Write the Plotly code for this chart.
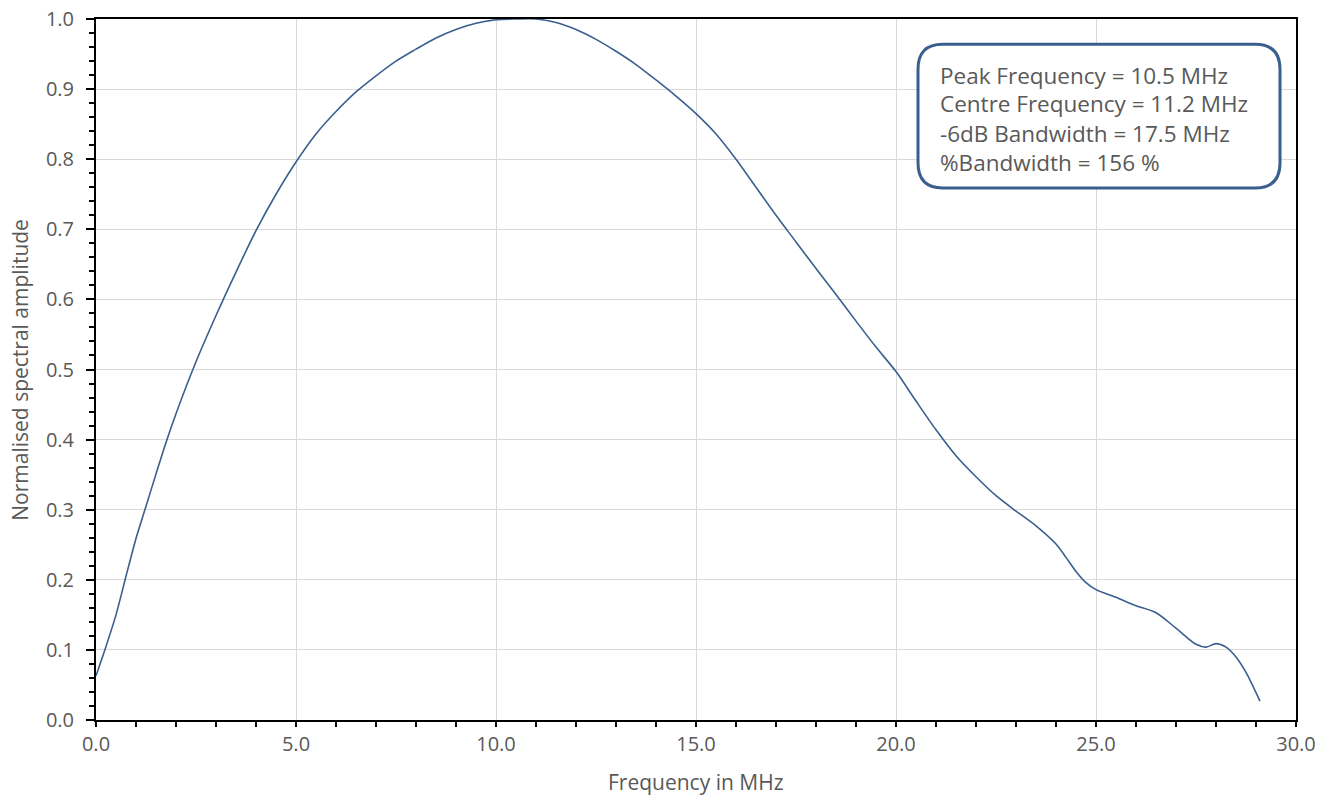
import plotly.graph_objects as go

freq_mhz = [0.0, 0.25, 0.5, 0.75, 1.0, 1.25, 1.5, 1.75, 2.0, 2.5, 3.0, 3.5, 4.0, 4.5,
            5.0, 5.5, 6.0, 6.5, 7.0, 7.5, 8.0, 8.5, 9.0, 9.5, 10.0, 10.5, 11.0, 11.5,
            12.0, 12.5, 13.0, 13.5, 14.0, 14.5, 15.0, 15.5, 16.0, 16.5, 17.0, 17.5,
            18.0, 18.5, 19.0, 19.5, 20.0, 20.5, 21.0, 21.5, 22.0, 22.5, 23.0, 23.5,
            24.0, 24.25, 24.5, 24.75, 25.0, 25.5, 26.0, 26.5, 27.0, 27.5, 27.75,
            28.0, 28.25, 28.5, 28.75, 29.1]
amplitude = [0.063, 0.105, 0.150, 0.205, 0.259, 0.305, 0.351, 0.396, 0.437, 0.511,
             0.577, 0.639, 0.698, 0.750, 0.796, 0.836, 0.868, 0.896, 0.919, 0.940,
             0.957, 0.973, 0.985, 0.994, 0.999, 1.000, 1.000, 0.995, 0.985, 0.971,
             0.954, 0.935, 0.913, 0.890, 0.865, 0.836, 0.800, 0.760, 0.720, 0.682,
             0.644, 0.607, 0.569, 0.532, 0.497, 0.455, 0.414, 0.377, 0.347, 0.320,
             0.298, 0.277, 0.251, 0.232, 0.212, 0.196, 0.186, 0.175, 0.163, 0.153,
             0.131, 0.108, 0.104, 0.109, 0.104, 0.090, 0.068, 0.027]

info_lines = ["Peak Frequency = 10.5 MHz",
              "Centre Frequency = 11.2 MHz",
              "-6dB Bandwidth = 17.5 MHz",
              "%Bandwidth = 156 %"]

FONT = "Open Sans"
GREY = "#595959"
LINE = "#3a5f8f"

fig = go.Figure()
fig.add_trace(go.Scatter(x=freq_mhz, y=amplitude, mode="lines",
                         line=dict(color=LINE, width=1.6, shape="spline", smoothing=0.8),
                         showlegend=False, hoverinfo="skip"))

axis_common = dict(showline=True, linecolor="black", linewidth=2, mirror=True,
                   showgrid=True, gridcolor="#d9d9d9", gridwidth=1, zeroline=False,
                   ticks="outside", tickcolor="black", tickwidth=1.5, automargin=False,
                   tickfont=dict(family=FONT, size=20, color=GREY))

fig.update_xaxes(range=[0, 30], dtick=5, tick0=0, tickformat=".1f", ticklen=5,
                 minor=dict(dtick=1, ticks="outside", ticklen=5, tickcolor="black", tickwidth=1.5, showgrid=False),
                 **axis_common)
fig.update_yaxes(range=[0, 1.0], dtick=0.1, tick0=0, tickformat=".1f", ticklen=8,
                 ticklabelstandoff=8,
                 minor=dict(dtick=0.02, ticks="outside", ticklen=5, tickcolor="black", tickwidth=1.5, showgrid=False),
                 **axis_common)

fig.add_annotation(text="Frequency in MHz", xref="paper", yref="paper", x=0.5, y=-0.089,
                   xanchor="center", yanchor="middle", showarrow=False,
                   font=dict(family=FONT, size=21, color=GREY))
fig.add_annotation(text="Normalised spectral amplitude", xref="paper", yref="paper", x=-0.064, y=0.5,
                   xanchor="center", yanchor="middle", showarrow=False, textangle=-90,
                   font=dict(family=FONT, size=21, color=GREY))

# rounded info box
x0, x1 = 20.55, 29.6
y0, y1 = 0.759, 0.964
rx, ry = 0.62, 0.036
path = (f"M {x0+rx},{y1} L {x1-rx},{y1} Q {x1},{y1} {x1},{y1-ry} "
        f"L {x1},{y0+ry} Q {x1},{y0} {x1-rx},{y0} "
        f"L {x0+rx},{y0} Q {x0},{y0} {x0},{y0+ry} "
        f"L {x0},{y1-ry} Q {x0},{y1} {x0+rx},{y1} Z")
fig.add_shape(type="path", path=path, xref="x", yref="y",
              line=dict(color=LINE, width=3), fillcolor="white", layer="above")

line_y = [0.920, 0.879, 0.837, 0.796]
for txt, yy in zip(info_lines, line_y):
    fig.add_annotation(x=21.06, y=yy, xref="x", yref="y", text=txt, showarrow=False,
                       xanchor="left", yanchor="middle",
                       font=dict(family=FONT, size=22.5, color=GREY))

fig.update_layout(width=1334, height=798, plot_bgcolor="white", paper_bgcolor="white",
                  margin=dict(l=96, r=38, t=19, b=78))

fig.write_html("out.html")
